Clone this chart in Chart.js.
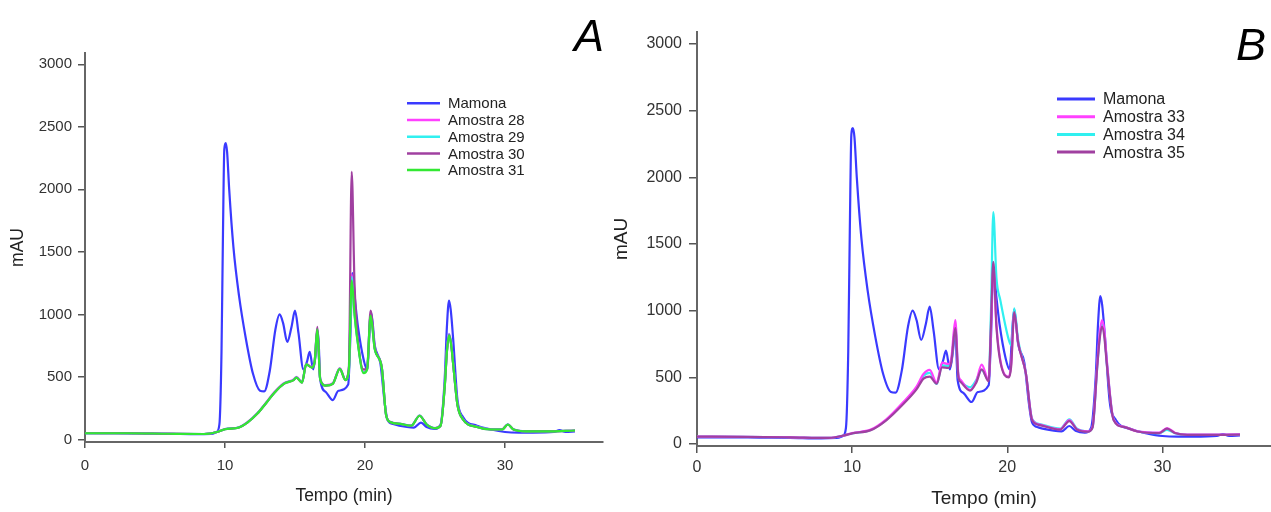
<!DOCTYPE html>
<html><head><meta charset="utf-8">
<script src="https://cdn.jsdelivr.net/npm/chart.js@4"></script>
<style>
html,body{margin:0;padding:0;background:#fff;width:1271px;height:512px;overflow:hidden}
#wa{position:absolute;left:0;top:0;width:620px;height:512px}
#wb{position:absolute;left:600px;top:0;width:671px;height:512px}
</style></head><body>
<div id="wa"><canvas id="ca"></canvas></div>
<div id="wb"><canvas id="cb"></canvas></div>
<script>
// ---- Data (time in min, signal in mAU) ----
const xTickValues = [0, 10, 20, 30];
const yTickValues = [0, 500, 1000, 1500, 2000, 2500, 3000];

// Mamona (reference, same in both panels)
const tMamona = [0, 2, 4, 6, 8, 9, 9.4, 9.6, 9.75, 9.85, 9.95, 10.05, 10.15, 10.3, 10.6, 11.0, 11.5, 12.0, 12.5, 12.8, 13.2, 13.6, 13.9, 14.15, 14.45, 14.75, 15.0, 15.25, 15.6, 15.85, 16.05, 16.3, 16.5, 16.65, 16.8, 17.2, 17.7, 18.1, 18.8, 18.95, 19.1, 19.3, 19.5, 19.9, 20.15, 20.35, 20.45, 20.7, 21.1, 21.4, 21.6, 22.0, 23.0, 23.5, 24.0, 24.4, 25.0, 25.4, 25.7, 25.85, 26.0, 26.12, 26.3, 26.6, 27.0, 28.0, 29.0, 30.0, 31.0, 32.0, 33.5, 33.9, 34.3, 35.0];
const mamona = [50, 50, 48, 46, 42, 45, 60, 120, 700, 1600, 2320, 2370, 2300, 2000, 1540, 1150, 800, 525, 390, 385, 550, 880, 1000, 930, 780, 900, 1030, 850, 560, 620, 700, 560, 700, 860, 480, 380, 315, 390, 440, 800, 1330, 1100, 900, 640, 560, 900, 1010, 750, 610, 300, 160, 125, 100, 95, 135, 100, 85, 120, 500, 900, 1110, 1040, 800, 320, 180, 110, 80, 60, 55, 55, 60, 75, 60, 65];

// Panel A samples
const tA = [0, 3, 6, 8.5, 9.5, 10, 11, 11.6, 12.3, 13, 13.5, 14.2, 14.9, 15.1, 15.5, 15.8, 16.2, 16.4, 16.6, 16.8, 17.2, 17.7, 18.2, 18.6, 18.85, 19.05, 19.25, 19.45, 19.9, 20.15, 20.4, 20.7, 21.2, 21.5, 21.8, 22.5, 23.3, 23.9, 24.4, 25.0, 25.4, 25.7, 25.85, 26.0, 26.15, 26.3, 26.6, 27.0, 28.0, 29.0, 29.8, 30.2, 30.6, 31.5, 33.0, 35.0];
const amostra28 = [52, 50, 47, 44, 62, 84, 98, 138, 210, 305, 375, 450, 480, 500, 460, 605, 580, 625, 890, 485, 435, 450, 570, 480, 565, 1320, 1020, 810, 540, 565, 1000, 725, 578, 200, 142, 126, 112, 192, 122, 92, 112, 440, 710, 845, 775, 605, 282, 162, 102, 82, 82, 122, 82, 66, 66, 72];
const amostra29 = [51, 50, 46, 44, 62, 83, 97, 136, 207, 302, 372, 447, 477, 497, 457, 602, 577, 622, 885, 482, 432, 447, 567, 477, 562, 1300, 1010, 805, 535, 562, 995, 722, 576, 200, 141, 125, 111, 191, 121, 91, 111, 435, 705, 840, 770, 602, 281, 161, 101, 81, 81, 121, 81, 65, 65, 72];
const amostra30 = [50, 50, 46, 44, 62, 82, 96, 135, 205, 300, 370, 445, 475, 495, 455, 600, 575, 620, 900, 480, 430, 445, 565, 475, 580, 2140, 1250, 850, 560, 560, 1030, 730, 575, 200, 140, 125, 110, 190, 120, 90, 110, 430, 700, 835, 765, 600, 280, 160, 100, 80, 80, 120, 80, 65, 65, 72];
const amostra31 = [50, 50, 46, 44, 62, 82, 96, 135, 205, 300, 370, 445, 475, 495, 455, 600, 575, 620, 880, 480, 430, 445, 565, 475, 560, 1270, 1000, 800, 530, 560, 990, 720, 575, 200, 140, 125, 110, 190, 120, 90, 110, 430, 700, 830, 760, 600, 280, 160, 100, 80, 80, 120, 80, 65, 65, 72];

// Panel B samples
const tB = [0, 3, 6, 8.5, 9.5, 10, 11.2, 12.2, 13.3, 14.15, 14.6, 15.0, 15.45, 15.8, 16.2, 16.4, 16.65, 16.85, 17.0, 17.6, 18.0, 18.35, 18.8, 18.95, 19.1, 19.3, 19.55, 20.1, 20.25, 20.45, 20.7, 21.2, 21.6, 22.1, 23.4, 24.0, 24.5, 25.2, 25.5, 25.8, 25.95, 26.1, 26.25, 26.4, 26.85, 27.5, 28.4, 29.8, 30.3, 30.8, 31.6, 35.0];
const amostra33 = [56, 54, 50, 46, 65, 82, 108, 185, 315, 430, 525, 556, 460, 610, 600, 650, 930, 520, 480, 405, 470, 595, 480, 850, 1330, 900, 630, 505, 600, 980, 760, 530, 185, 145, 110, 180, 110, 95, 130, 600, 820, 930, 860, 650, 185, 130, 95, 85, 120, 85, 70, 72];
const amostra34 = [56, 54, 50, 46, 65, 80, 105, 180, 305, 420, 510, 533, 450, 590, 585, 630, 885, 510, 470, 425, 480, 555, 480, 1000, 1740, 1250, 1080, 780, 740, 1017, 780, 530, 190, 150, 115, 185, 115, 95, 125, 580, 790, 900, 830, 640, 185, 130, 95, 82, 105, 82, 68, 70];
const amostra35 = [56, 54, 50, 46, 65, 80, 104, 178, 300, 410, 490, 506, 452, 575, 570, 620, 870, 500, 465, 400, 460, 560, 470, 900, 1366, 880, 620, 500, 580, 990, 760, 530, 180, 142, 108, 172, 108, 92, 125, 580, 780, 880, 810, 620, 180, 128, 94, 82, 115, 82, 68, 70];

const labelsA = ['Mamona', 'Amostra 28', 'Amostra 29', 'Amostra 30', 'Amostra 31'];
const labelsB = ['Mamona', 'Amostra 33', 'Amostra 34', 'Amostra 35'];

// ---- helpers ----
function pts(t, v) { return t.map((x, i) => ({ x: x, y: v[i] })); }
const FONT = '"Liberation Sans", Arial, sans-serif';

const overlay = {
  id: 'overlay',
  afterDraw(chart, args, o) {
    const ctx = chart.ctx;
    ctx.save();
    ctx.font = o.font;
    ctx.textBaseline = 'middle';
    ctx.textAlign = 'left';
    chart.data.datasets.forEach((ds, i) => {
      const y = o.y0 + i * o.dy;
      ctx.strokeStyle = ds.borderColor;
      ctx.lineWidth = o.lw;
      ctx.beginPath(); ctx.moveTo(o.x0, y); ctx.lineTo(o.x1, y); ctx.stroke();
      ctx.fillStyle = '#222';
      ctx.fillText(ds.label, o.tx, y + 1);
    });
    ctx.font = o.letterFont;
    ctx.fillStyle = '#000';
    ctx.textBaseline = 'alphabetic';
    ctx.fillText(o.letter, o.lx, o.ly);
    ctx.restore();
  }
};

function ds(label, t, v, color, order, w) {
  return { label: label, data: pts(t, v), borderColor: color, backgroundColor: color,
    borderWidth: w || 2.2, pointRadius: 0, fill: false, cubicInterpolationMode: 'monotone', order: order };
}

function makeChart(id, datasets, g) {
  return new Chart(document.getElementById(id), {
    type: 'line',
    data: { datasets: datasets },
    plugins: [overlay],
    options: {
      responsive: true, maintainAspectRatio: false, animation: false,
      layout: { padding: { left: 0, top: g.top, right: g.right, bottom: 0 } },
      plugins: { legend: { display: false }, tooltip: { enabled: false }, overlay: g.overlay },
      scales: {
        x: {
          type: 'linear', min: 0, max: 37,
          afterBuildTicks: s => { s.ticks = xTickValues.map(v => ({ value: v })); },
          afterFit: s => { s.height = g.xh; },
          ticks: { autoSkip: false, maxRotation: 0, font: { family: FONT, size: g.tf }, color: '#333', padding: g.xpad, callback: v => String(v) },
          grid: { display: true, drawOnChartArea: false, drawTicks: true, tickLength: g.xtl, color: '#555', lineWidth: 1.5 },
          border: { display: true, color: '#666', width: 2 },
          title: { display: true, text: 'Tempo (min)', font: { family: FONT, size: g.af }, color: '#222', padding: { top: 0, bottom: g.xtp } }
        },
        y: {
          type: 'linear', min: g.ymin, max: 3090,
          afterBuildTicks: s => { s.ticks = yTickValues.map(v => ({ value: v })); },
          afterFit: s => { s.width = g.yw; },
          ticks: { autoSkip: false, font: { family: FONT, size: g.tf }, color: '#333', padding: g.ypad, callback: v => String(v) },
          grid: { display: true, drawOnChartArea: false, drawTicks: true, tickLength: g.ytl, color: '#555', lineWidth: 1.5 },
          border: { display: true, color: '#666', width: 2 },
          title: { display: true, text: 'mAU', font: { family: FONT, size: g.af }, color: '#222', padding: { top: g.ytp, bottom: 0 } }
        }
      }
    }
  });
}

const BLUE = '#3a3aff', MAG = '#ff40ff', CYAN = '#30f0f0', PURP = '#a040a0', GREEN = '#33e833';

makeChart('ca', [
  ds(labelsA[0], tMamona, mamona, BLUE, 4),
  ds(labelsA[1], tA, amostra28, MAG, 3),
  ds(labelsA[2], tA, amostra29, CYAN, 2),
  ds(labelsA[3], tA, amostra30, PURP, 1),
  ds(labelsA[4], tA, amostra31, GREEN, 0)
], {
  top: 53, right: 17, xh: 70, yw: 85, ymin: -20, tf: 15, af: 17.5,
  xpad: 9, xtl: 6, xtp: 5, ypad: 6, ytl: 7, ytp: 7.5,
  overlay: { x0: 407, x1: 440, tx: 448, y0: 103.3, dy: 16.7, lw: 2.5,
    font: '15px ' + FONT, letter: 'A', letterFont: 'italic 45px ' + FONT, lx: 574, ly: 51 }
});

makeChart('cb', [
  ds(labelsB[0], tMamona, mamona, BLUE, 3),
  ds(labelsB[1], tB, amostra33, MAG, 1),
  ds(labelsB[2], tB, amostra34, CYAN, 2),
  ds(labelsB[3], tB, amostra35, PURP, 0)
], {
  top: 32, right: 0, xh: 66, yw: 97, ymin: -15, tf: 16, af: 19,
  xpad: 5, xtl: 7, xtp: 2, ypad: 7, ytl: 8, ytp: 10.5,
  overlay: { x0: 457, x1: 495, tx: 503, y0: 99, dy: 17.7, lw: 3,
    font: '16px ' + FONT, letter: 'B', letterFont: 'italic 45px ' + FONT, lx: 636, ly: 60 }
});
</script>
</body></html>
